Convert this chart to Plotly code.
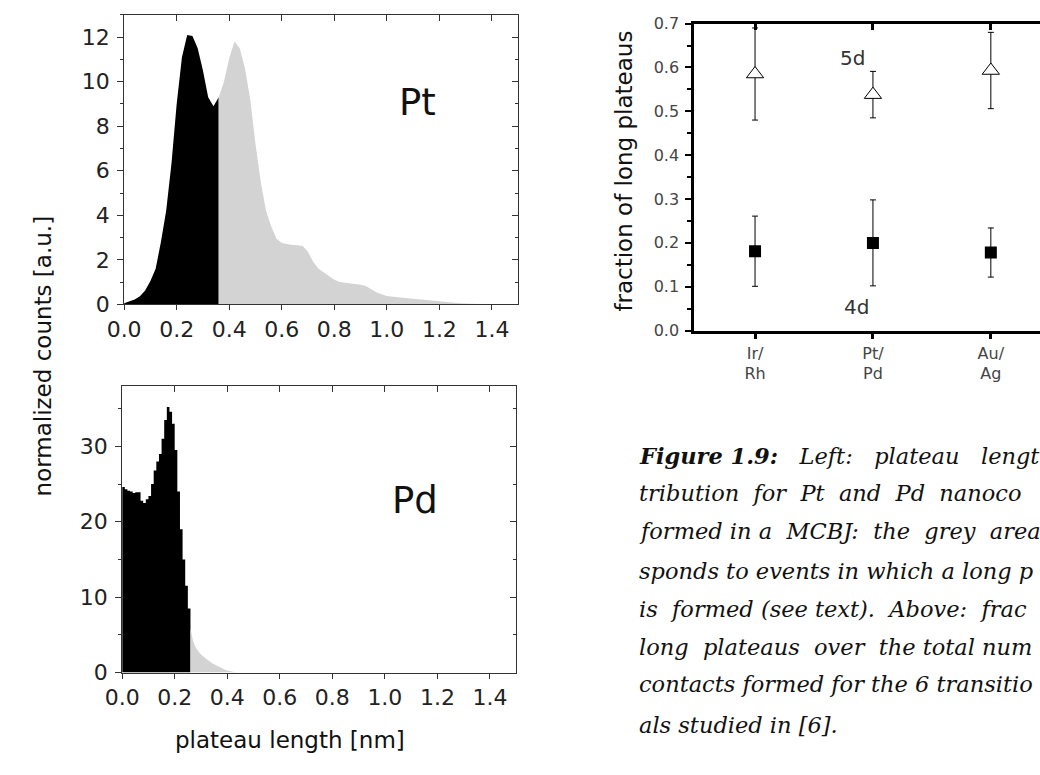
import plotly.graph_objects as go

# ---------------- data ----------------
# Pt plateau length histogram (nm, normalized counts)
pt_len_short = [0.00, 0.02, 0.04, 0.06, 0.08, 0.10, 0.12, 0.14, 0.16, 0.18,
                0.20, 0.22, 0.24, 0.26, 0.28, 0.30, 0.32, 0.34, 0.36]
pt_cnt_short = [0.05, 0.12, 0.22, 0.36, 0.62, 1.05, 1.6, 2.8, 4.2, 6.3,
                9.0, 11.1, 12.1, 12.05, 11.5, 10.5, 9.3, 8.9, 9.3]
pt_len_long = [0.36, 0.38, 0.40, 0.42, 0.44, 0.46, 0.48, 0.50, 0.52, 0.54,
               0.56, 0.58, 0.60, 0.62, 0.64, 0.66, 0.68, 0.70, 0.72, 0.74,
               0.76, 0.78, 0.80, 0.82, 0.84, 0.86, 0.88, 0.90, 0.92, 0.94,
               0.96, 0.98, 1.00, 1.04, 1.08, 1.12, 1.16, 1.20, 1.24, 1.28,
               1.32, 1.36, 1.40, 1.44]
pt_cnt_long = [9.3, 10.0, 11.05, 11.8, 11.5, 10.6, 9.2, 7.2, 5.5, 4.2,
               3.5, 2.95, 2.75, 2.7, 2.67, 2.65, 2.62, 2.35, 1.9, 1.6,
               1.42, 1.25, 1.1, 1.0, 0.97, 0.95, 0.93, 0.88, 0.82, 0.68,
               0.54, 0.45, 0.38, 0.32, 0.27, 0.22, 0.17, 0.12, 0.08, 0.05,
               0.03, 0.02, 0.01, 0.0]

# Pd plateau length histogram
pd_len_short = [0.00, 0.01, 0.02, 0.03, 0.04, 0.05, 0.06, 0.07, 0.08, 0.09,
                0.10, 0.11, 0.12, 0.13, 0.14, 0.15, 0.16, 0.17, 0.18, 0.19,
                0.20, 0.21, 0.22, 0.23, 0.24, 0.25, 0.26]
pd_cnt_short = [24.6, 24.3, 24.1, 24.0, 23.8, 23.9, 23.9, 22.8, 22.5, 23.0,
                23.4, 25.0, 26.8, 28.0, 29.0, 31.0, 33.5, 35.2, 34.6, 33.0,
                29.5, 24.0, 19.0, 15.0, 11.5, 8.5, 6.5]
pd_len_long = [0.26, 0.27, 0.28, 0.29, 0.30, 0.31, 0.32, 0.33, 0.34, 0.35,
               0.36, 0.37, 0.38, 0.39, 0.40, 0.41, 0.42, 0.43, 0.44, 0.45]
pd_cnt_long = [5.8, 4.2, 3.3, 2.8, 2.4, 2.1, 1.8, 1.5, 1.3, 1.1,
               0.9, 0.7, 0.55, 0.4, 0.28, 0.18, 0.1, 0.05, 0.02, 0.0]

# fraction of long plateaus per metal pair
pairs = ["Ir/<br>Rh", "Pt/<br>Pd", "Au/<br>Ag"]
pair_pos = [1, 2, 3]
frac_5d = [0.585, 0.538, 0.593]
err_5d = [0.105, 0.053, 0.087]
frac_4d = [0.181, 0.200, 0.178]
err_4d = [0.080, 0.098, 0.056]

hist_ticks_x = [0.0, 0.2, 0.4, 0.6, 0.8, 1.0, 1.2, 1.4]

# caption, as far as it is visible (the page is cut at the right edge)
caption_lines = [
    "<b><i>Figure 1.9:</i></b><i>   Left:   plateau   lengt</i>",
    "<i>tribution  for  Pt  and  Pd  nanoco</i>",
    "<i>formed in a  MCBJ:  the  grey  area</i>",
    "<i>sponds to events in which a long p</i>",
    "<i>is  formed (see text).  Above:  frac</i>",
    "<i>long  plateaus  over  the total num</i>",
    "<i>contacts formed for the 6 transitio</i>",
    "<i>als studied in [6].</i>",
]

# ---------------- figure ----------------
W, H = 1040, 775
BLACK = "#000000"
GREY = "#d3d3d3"
AX = "#333333"

fig = go.Figure()

fig.add_trace(go.Scatter(x=pt_len_short, y=pt_cnt_short, mode="lines",
                         line=dict(width=0, color=BLACK), fill="tozeroy",
                         fillcolor=BLACK, xaxis="x", yaxis="y",
                         showlegend=False, hoverinfo="skip"))
fig.add_trace(go.Scatter(x=pt_len_long, y=pt_cnt_long, mode="lines",
                         line=dict(width=0, color=GREY), fill="tozeroy",
                         fillcolor=GREY, xaxis="x", yaxis="y",
                         showlegend=False, hoverinfo="skip"))
fig.add_trace(go.Scatter(x=pd_len_short, y=pd_cnt_short, mode="lines",
                         line=dict(width=0, color=BLACK, shape="hv"),
                         fill="tozeroy", fillcolor=BLACK,
                         xaxis="x2", yaxis="y2", showlegend=False,
                         hoverinfo="skip"))
fig.add_trace(go.Scatter(x=pd_len_long, y=pd_cnt_long, mode="lines",
                         line=dict(width=0, color=GREY), fill="tozeroy",
                         fillcolor=GREY, xaxis="x2", yaxis="y2",
                         showlegend=False, hoverinfo="skip"))

fig.add_trace(go.Scatter(x=pair_pos, y=frac_5d, mode="markers",
                         marker=dict(symbol="triangle-up", size=15,
                                     color="white",
                                     line=dict(color=BLACK, width=1)),
                         error_y=dict(type="data", array=err_5d, visible=True,
                                      color=BLACK, thickness=1, width=3),
                         xaxis="x3", yaxis="y3", showlegend=False))
fig.add_trace(go.Scatter(x=pair_pos, y=frac_4d, mode="markers",
                         marker=dict(symbol="square", size=12, color=BLACK,
                                     line=dict(width=0)),
                         error_y=dict(type="data", array=err_4d, visible=True,
                                      color=BLACK, thickness=1, width=3),
                         xaxis="x3", yaxis="y3", showlegend=False))

# empty traces so that the overlay (mirror-tick) axes are drawn
for xa, ya in [("x4", "y"), ("x", "y4"), ("x5", "y2"), ("x2", "y5"),
               ("x6", "y3")]:
    fig.add_trace(go.Scatter(x=[], y=[], xaxis=xa, yaxis=ya,
                             showlegend=False, hoverinfo="skip"))

tick_font = dict(family="DejaVu Sans", size=22, color="#222222")
hist_x = dict(range=[0, 1.5], tickvals=hist_ticks_x, tickformat=".1f",
              ticks="outside", ticklen=5, tickcolor=AX,
              showline=True, linecolor=AX, linewidth=1, mirror=True,
              showgrid=False, zeroline=False, tickfont=tick_font)
hist_y = dict(ticks="outside", ticklen=6, tickcolor=AX,
              showline=True, linecolor=AX, linewidth=1, mirror=True,
              showgrid=False, zeroline=False, tickfont=tick_font,
              ticklabelstandoff=3)
mirror_x = dict(range=[0, 1.5], tickvals=hist_ticks_x, ticks="inside",
                ticklen=6, tickcolor=AX, showticklabels=False,
                showline=False, showgrid=False, zeroline=False, side="top")
mirror_y = dict(ticks="inside", ticklen=6, tickcolor=AX,
                showticklabels=False, showline=False, showgrid=False,
                zeroline=False, side="right")

fig.update_layout(
    width=W, height=H,
    margin=dict(l=0, r=0, t=0, b=0),
    paper_bgcolor="white", plot_bgcolor="white",
    xaxis=dict(domain=[108 / W, 509 / W], anchor="y", **hist_x),
    yaxis=dict(domain=[1 - 304 / H, 1 - 6 / H], anchor="x", range=[0, 13],
               dtick=2, minor=dict(dtick=1, ticks="outside", ticklen=3,
                                   tickcolor=AX), **hist_y),
    xaxis4=dict(overlaying="x", anchor="y", **mirror_x),
    yaxis4=dict(overlaying="y", anchor="x", range=[0, 13], dtick=2,
                minor=dict(dtick=1, ticks="inside", ticklen=3, tickcolor=AX),
                **mirror_y),
    xaxis2=dict(domain=[106 / W, 507 / W], anchor="y2", **hist_x),
    yaxis2=dict(domain=[1 - 683 / H, 1 - 388 / H], anchor="x2",
                range=[0, 38], dtick=10,
                minor=dict(dtick=5, ticks="outside", ticklen=3,
                           tickcolor=AX), **hist_y),
    xaxis5=dict(overlaying="x2", anchor="y2", **mirror_x),
    yaxis5=dict(overlaying="y2", anchor="x2", range=[0, 38], dtick=10,
                minor=dict(dtick=5, ticks="inside", ticklen=3, tickcolor=AX),
                **mirror_y),
    xaxis3=dict(domain=[688 / W, 1.0], anchor="y3", range=[0.483, 3.417],
                tickvals=pair_pos, ticktext=pairs, ticks="outside",
                ticklen=6, tickwidth=2.5, tickcolor=BLACK,
                showline=True, linecolor=BLACK, linewidth=2.5, mirror=True,
                showgrid=False, zeroline=False,
                tickfont=dict(family="DejaVu Sans", size=16, color="#444444")),
    xaxis6=dict(overlaying="x3", anchor="y3", side="top",
                range=[0.483, 3.417], tickvals=pair_pos, ticks="inside",
                ticklen=6, tickwidth=2.5, tickcolor=BLACK,
                showticklabels=False, showline=False, showgrid=False,
                zeroline=False),
    yaxis3=dict(domain=[1 - 331 / H, 1 - 15 / H], anchor="x3",
                range=[0, 0.7], dtick=0.1, tickformat=".1f",
                ticks="outside", ticklen=6, tickwidth=2, tickcolor=BLACK,
                minor=dict(dtick=0.05, ticks="outside", ticklen=4,
                           tickwidth=2, tickcolor=BLACK),
                showline=True, linecolor=BLACK, linewidth=2.5,
                showgrid=False, zeroline=False, ticklabelstandoff=3,
                tickfont=dict(family="DejaVu Sans", size=16, color="#444444")),
)

ann = []
ann.append(dict(text="Pt", x=407 / W, y=1 - 96 / H, xref="paper", yref="paper",
                showarrow=False, xanchor="center", yanchor="middle",
                font=dict(family="DejaVu Sans", size=37, color="#111111")))
ann.append(dict(text="Pd", x=404 / W, y=1 - 506 / H, xref="paper",
                yref="paper", showarrow=False, xanchor="center",
                yanchor="middle",
                font=dict(family="DejaVu Sans", size=37, color="#111111")))
ann.append(dict(text="5d", x=849 / W, y=1 - 50 / H, xref="paper", yref="paper",
                showarrow=False, xanchor="center", yanchor="middle",
                font=dict(family="DejaVu Sans", size=20, color="#333333")))
ann.append(dict(text="4d", x=853 / W, y=1 - 307 / H, xref="paper",
                yref="paper", showarrow=False, xanchor="center",
                yanchor="middle",
                font=dict(family="DejaVu Sans", size=20, color="#333333")))
title_font = dict(family="DejaVu Sans", size=23, color="#111111")
ann.append(dict(text="normalized counts [a.u.]", x=25 / W, y=1 - 357 / H,
                xref="paper", yref="paper", showarrow=False, textangle=-90,
                xanchor="center", yanchor="middle", font=title_font))
ann.append(dict(text="plateau length [nm]", x=277 / W, y=1 - 752 / H,
                xref="paper", yref="paper", showarrow=False,
                xanchor="center", yanchor="middle", font=title_font))
ann.append(dict(text="fraction of long plateaus", x=617 / W, y=1 - 167 / H,
                xref="paper", yref="paper", showarrow=False, textangle=-90,
                xanchor="center", yanchor="middle", font=title_font))

cap_font = dict(family="DejaVu Serif", size=22.5, color="#111111")
cap_y = [460, 498, 537, 578, 618, 657, 695, 737]
for line, yy in zip(caption_lines, cap_y):
    ann.append(dict(text=line, x=630 / W, y=1 - yy / H, xref="paper",
                    yref="paper", showarrow=False, xanchor="left",
                    yanchor="middle", font=cap_font))

fig.update_layout(annotations=ann)

fig.write_html("out.html")
